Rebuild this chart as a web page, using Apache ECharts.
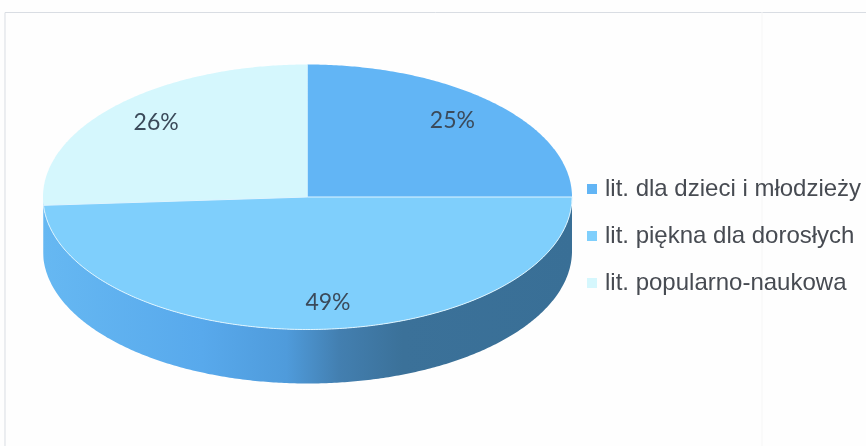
<!DOCTYPE html>
<html>
<head>
<meta charset="utf-8">
<style>html,body{margin:0;padding:0;background:#fff}#c{width:866px;height:446px}</style>
<script src="https://cdn.jsdelivr.net/npm/echarts@6/dist/echarts.min.js"></script>
</head>
<body>
<div id="c"></div>
<script>
var categories = ['lit. dla dzieci i młodzieży', 'lit. piękna dla dorosłych', 'lit. popularno-naukowa'];
var shares = [25, 49, 26];
var topColors = ['#62b5f5', '#7fcffc', '#d5f7fd'];
var labelNudge = [[-1, -3], [14, 2], [-1, -4]];

var CX = 307.5, CY = 197, RX = 264.5, RY = 132.5, DEPTH = 54;
var total = shares.reduce(function (a, b) { return a + b; }, 0);

function pt(theta, dy) {
  return [CX + RX * Math.sin(theta), CY - RY * Math.cos(theta) + (dy || 0)];
}
function arc(a0, a1, dy) {
  var n = Math.max(2, Math.ceil(Math.abs(a1 - a0) / 0.01)), out = [];
  for (var i = 0; i <= n; i++) out.push(pt(a0 + (a1 - a0) * i / n, dy));
  return out;
}
var wallFill = {
  type: 'linear', global: true, x: CX - RX, y: 0, x2: CX + RX, y2: 0,
  colorStops: [
    { offset: 0, color: '#66b8f2' },
    { offset: 0.3, color: '#58a9ec' },
    { offset: 0.46, color: '#4f9bdb' },
    { offset: 0.56, color: '#437fb0' },
    { offset: 0.68, color: '#3b7199' },
    { offset: 1, color: '#396f96' }
  ]
};
function renderSlice(index) {
  return function (params, api) {
    var before = shares.slice(0, index).reduce(function (a, b) { return a + b; }, 0);
    var v = api.value(0);
    var a0 = before / total * 2 * Math.PI, a1 = (before + v) / total * 2 * Math.PI;
    var children = [];
    var f0 = Math.max(a0, Math.PI / 2), f1 = Math.min(a1, 3 * Math.PI / 2);
    if (f1 > f0) {
      children.push({
        type: 'polygon', z2: 1,
        shape: { points: arc(f0, f1, 0).concat(arc(f1, f0, DEPTH)) },
        style: { fill: wallFill }
      });
    }
    var outlined = index === 1;
    children.push({
      type: 'polygon', z2: 2,
      shape: { points: [[CX, CY]].concat(arc(a0, a1, 0)) },
      style: { fill: topColors[index], stroke: outlined ? '#dff5ff' : null, lineWidth: 1 }
    });
    var mid = (a0 + a1) / 2, f = 0.78;
    children.push({
      type: 'text', z2: 3,
      x: CX + RX * f * Math.sin(mid) + labelNudge[index][0],
      y: CY - RY * f * Math.cos(mid) + labelNudge[index][1],
      style: {
        text: v + '%', fill: '#3b4a5a', fontFamily: 'Lato', fontSize: 23,
        align: 'center', verticalAlign: 'middle'
      }
    });
    return { type: 'group', children: children };
  };
}
// Slices drawn so the front wall and the top faces stack correctly
var order = [0, 2, 1];
var chart = echarts.init(document.getElementById('c'), null, { renderer: 'canvas' });
chart.setOption({
  animation: false,
  backgroundColor: '#fefefe',
  graphic: [
    { type: 'polyline', silent: true, shape: { points: [[5, 446], [5, 12.5], [866, 12.5]] },
      style: { fill: null, stroke: '#d9dde3', lineWidth: 1 } },
    { type: 'line', silent: true, shape: { x1: 762, y1: 12, x2: 762, y2: 446 },
      style: { stroke: '#f6f6f6', lineWidth: 1 } }
  ],
  legend: {
    left: 582, top: 172, orient: 'vertical', itemWidth: 10, itemHeight: 10, itemGap: 23,
    icon: 'rect', selectedMode: false, data: categories,
    textStyle: { fontFamily: 'Liberation Sans', fontSize: 24, color: '#474b52', padding: [0, 0, 0, 3] }
  },
  series: order.map(function (i) {
    return {
      type: 'custom', name: categories[i], coordinateSystem: 'none',
      itemStyle: { color: topColors[i] }, z: i === 1 ? 3 : 2,
      renderItem: renderSlice(i), data: [[shares[i]]], silent: true
    };
  })
});
</script>
</body>
</html>
